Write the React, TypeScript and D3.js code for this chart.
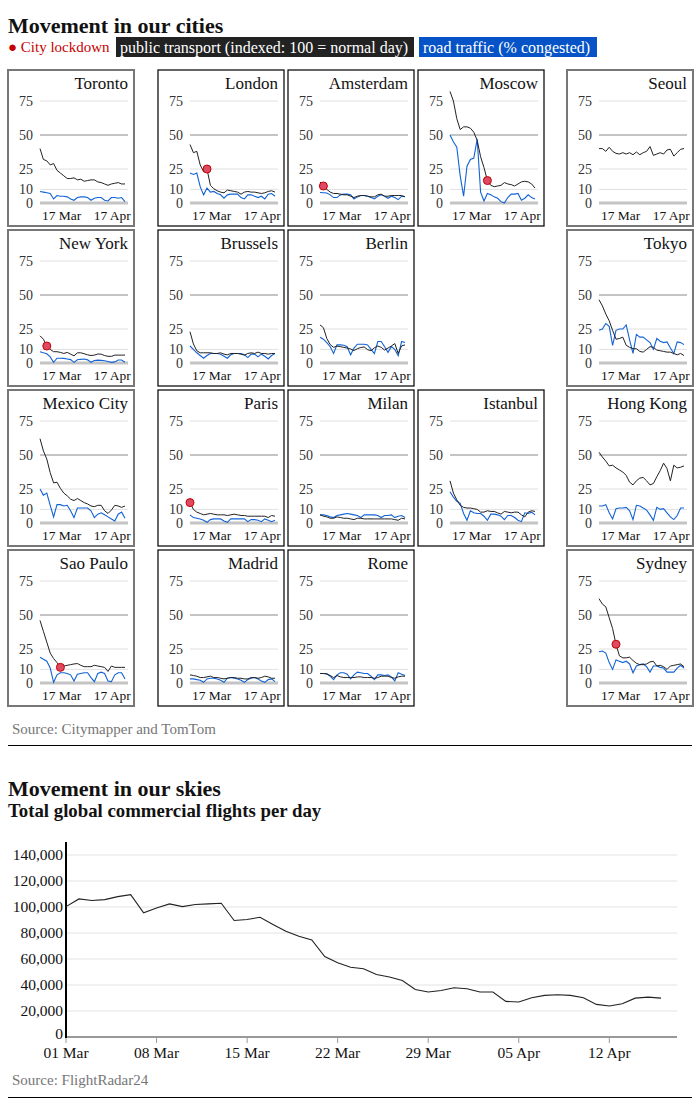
import React from "react";
import * as d3 from "d3";

const FONT = "'Liberation Serif', 'Times New Roman', serif";

// ---------- City panels data (every 2 days, 4 Mar – 23 Apr 2020) ----------
const cityStart = new Date(2020, 2, 4);
const cityDates = d3.range(26).map((i) => d3.timeDay.offset(cityStart, 2 * i));
const cityTickDates = [new Date(2020, 2, 17), new Date(2020, 3, 17)];
const cityTickLabels = ["17 Mar", "17 Apr"];
const cityYTicks = [0, 10, 25, 50, 75];

const torontoTransport = [40, 32, 31, 28, 29, 24, 22, 20, 18, 18, 18.5, 17, 17.5, 16, 16.5, 17, 17, 15.5, 15, 14, 13, 14, 14.5, 15, 14, 14];
const torontoTraffic = [8.5, 8, 7.5, 7, 3, 5.5, 5, 5, 4.5, 3, 2, 4, 4.5, 4.5, 4, 2, 3.5, 4, 4, 2, 1.5, 4, 4, 3.5, 4, 1];
const londonTransport = [43, 37, 38, 28, 23, 25, 13, 10.5, 9, 8, 7.5, 9.5, 9, 8.5, 8, 6.5, 8, 8.5, 8, 8, 7.5, 7, 7.5, 8.5, 9, 8];
const londonTraffic = [22, 21, 22, 12, 6, 11, 8, 8.5, 7, 6, 3.5, 6, 6.5, 6.5, 6.5, 4, 3, 6, 6, 5, 4, 5, 3, 6.5, 7, 5];
const amsterdamTransport = [15.5, 12.5, 10, 8, 7, 7, 6.5, 6, 6, 5, 4, 5, 5.5, 5.5, 5, 4.5, 4.5, 6, 6.5, 5, 5, 5.5, 5.5, 5.5, 5.5, 4.5];
const amsterdamTraffic = [7.7, 7.5, 7.3, 6, 4, 4, 6, 6.5, 6.5, 6, 3, 4.5, 5.5, 5.5, 5, 4, 3, 5, 6, 5, 3.5, 5, 4, 2.5, 5, 4.8];
const moscowTransport = [82, 75, 62, 54, 56, 56, 55, 52, 46, 34, 26, 16.5, 13, 12, 12.5, 13, 15, 14, 13.5, 12.5, 14, 15.5, 16, 15.5, 14, 11];
const moscowTraffic = [50, 45, 41, 20, 5, 27, 32, 33, 47, 8, 1.5, 7, 6, 4.5, 3.5, 1, 0, 4, 6.5, 6.5, 7, 2, 3.5, 6, 4, 3];
const seoulTransport = [40, 40, 38, 41, 38, 36.5, 36, 37, 36, 37, 35.5, 37.5, 35.5, 37, 38, 41.5, 35, 36, 37, 36, 39, 39.5, 34.5, 37, 39.5, 40];
const newYorkTransport = [20, 17.5, 12.5, 10, 8.3, 8.3, 7.8, 7, 7.8, 6.5, 5.3, 7.5, 7.5, 6.8, 6, 5.5, 5.8, 6.6, 6.5, 5.5, 4.9, 4.9, 5.8, 5.8, 5.8, 5.8];
const newYorkTraffic = [8.3, 7.5, 6.8, 4.5, 0.5, 3.5, 3.5, 3.4, 3, 2.5, 0.5, 2.4, 2.7, 2.9, 2.3, 0.5, 1.8, 2.1, 1.9, 1.6, 1.1, 0.5, 0.8, 2.2, 2.2, 0.5];
const brusselsTransport = [23, 14, 9, 7.5, 7.5, 7.5, 7.5, 7, 7, 7.5, 6.5, 6, 7, 7, 7, 6.5, 5.8, 7, 7.5, 7, 8, 7, 7, 6.5, 7, 7];
const brusselsTraffic = [12.5, 10, 7.5, 5.5, 3.5, 5.5, 7, 7, 7, 6.5, 5, 3.5, 6, 7, 7, 7, 6, 4, 6.5, 6.5, 4.5, 6.5, 5, 3, 5.5, 7];
const berlinTransport = [28, 26, 18, 13.5, 11.5, 12.5, 12, 11.5, 11, 10.3, 9.2, 10.5, 11.4, 11.8, 9.8, 9, 11.2, 12.5, 11.5, 9.5, 11, 12.5, 14.3, 7, 12.6, 13.3];
const berlinTraffic = [19, 17.5, 15, 12, 7, 13.3, 13.3, 13, 12, 6, 11, 13.8, 13.8, 13.8, 13.3, 10, 7, 15.8, 15.8, 12, 7.8, 12, 10, 5.3, 15.8, 15];
const tokyoTransport = [46.5, 42, 36, 31, 24, 17.5, 18, 19, 13, 11.5, 10.5, 10.5, 8.5, 8, 10, 12, 11.5, 9.5, 9, 8.5, 8, 8, 7, 6, 7, 5.5];
const tokyoTraffic = [24, 25, 29, 27, 13, 24, 25, 25, 28, 17, 7, 21, 19, 19, 17, 15, 10, 18, 16, 15, 15.5, 11, 7, 15.5, 15, 13.5];
const mexicoTransport = [62, 53, 47, 37, 29.5, 30, 25.5, 22, 20, 17.5, 16.5, 18, 16.5, 15, 14, 12.5, 12, 13, 13, 9, 7, 9.5, 13, 12.5, 11.5, 12.5];
const mexicoTraffic = [25, 20.5, 22, 13, 4.5, 13.5, 13.5, 12.5, 13, 9, 4, 11, 11, 11, 11, 9, 4, 6.5, 7.5, 6, 4.5, 3, 1.5, 6.5, 8, 3.5];
const parisTransport = [15, 10, 8, 7, 6, 6.5, 7, 6.5, 6, 6, 6, 5.5, 6, 6.5, 6, 5.5, 5.5, 5, 5, 5, 5, 5, 5, 4, 5.5, 5];
const parisTraffic = [6, 4, 3.5, 3, 2, 0.5, 2.5, 3, 3, 3, 1.5, 0.5, 3, 3, 3, 3, 3, 1, 2.5, 2.5, 2, 1, 3, 2, 1, 2];
const milanTransport = [6, 5, 4.5, 3.5, 3.5, 4.5, 4, 3.5, 3.5, 3, 2.5, 3.5, 3.5, 3, 3, 3, 3, 3, 3, 3, 3, 3, 2.5, 2, 3.5, 3];
const milanTraffic = [6, 6, 5.5, 4.5, 4, 5.5, 6, 6.5, 7, 6.5, 6, 5.5, 4, 6, 6, 6, 6, 5.5, 4, 5.5, 5.5, 6, 4, 5, 5.5, 4];
const istanbulTransport = [31, 22, 17, 13, 11.5, 11, 11, 10.5, 10, 8, 8, 9, 8.5, 8.5, 7.5, 6.5, 8.5, 8, 7.5, 8, 8, 6, 4.5, 8, 9, 8.5];
const istanbulTraffic = [23, 19, 16, 14.5, 7, 2, 9, 7.5, 7, 7, 5, 2, 6.5, 6.5, 6, 5, 2.5, 5.5, 5.5, 4, 2, 1, 7.5, 7, 8, 6];
const hongKongTransport = [52, 48.5, 45.5, 42, 42.5, 40.5, 39, 37.5, 35, 30, 28, 31, 33, 33.5, 31, 28, 29, 34, 38.5, 44, 40, 31, 42.5, 40.5, 41, 42];
const hongKongTraffic = [12.5, 12.5, 13.5, 7.5, 3, 10.5, 11, 11, 11.5, 9, 2.5, 13, 12.5, 11, 9.5, 6, 2, 11.5, 10, 10.5, 7.5, 4.5, 2.5, 5.5, 11, 11];
const saoPauloTransport = [46, 38, 30, 22, 18, 15, 11.5, 12.5, 13, 13.5, 14, 14.3, 13, 12, 12, 12, 13, 12.5, 12, 11.5, 8.5, 12.5, 11.5, 11.5, 11.5, 11.5];
const saoPauloTraffic = [19, 17.5, 16, 11, 0.5, 6, 7.5, 7.5, 7, 6, 1.5, 6.5, 7, 7.5, 7.5, 4, 1, 7, 8, 7, 1.5, 1, 6, 7.5, 7.5, 3];
const madridTransport = [6, 5.5, 5, 4, 4, 4.5, 5, 4, 4, 3.5, 3, 3.5, 4, 4, 3.5, 3.5, 3, 3, 4, 4, 3.5, 4, 5, 4.5, 3.5, 3.5];
const madridTraffic = [3, 3, 2.5, 2, 0.5, 3, 3.5, 3.5, 3, 2, 0.5, 3.5, 4, 3.5, 3, 2, 0.5, 2.5, 3.5, 4, 3, 1.5, 0.5, 2.5, 3, 1];
const romeTransport = [7, 7, 6.5, 5.5, 4, 5.5, 4.5, 4, 4, 4, 4, 4.5, 4.5, 4, 4, 4, 3.5, 4, 5, 5, 5, 4, 3.5, 4.5, 5, 5];
const romeTraffic = [7, 7, 7, 5, 2.5, 6, 7.5, 7.5, 6.5, 3, 6, 8, 7.5, 7, 7, 5, 2.5, 6, 6, 5.5, 6, 4.5, 1.5, 7.5, 6.5, 5.5];
const sydneyTransport = [62, 58, 56, 48, 40, 28.5, 20, 18.5, 18.5, 19, 16.5, 14.5, 13.5, 13.5, 14, 15.5, 16, 12.5, 13, 12, 10, 12.5, 13, 13.5, 14, 12];
const sydneyTraffic = [23, 23.5, 22, 15, 10, 17, 16, 15, 16, 14, 7.5, 12.5, 13.5, 14, 12, 8, 12.5, 12.5, 11.5, 11, 8, 8, 8, 11, 13, 11];

const cityNames = ["Toronto", "London", "Amsterdam", "Moscow", "Seoul", "New York", "Brussels", "Berlin", "Tokyo", "Mexico City", "Paris", "Milan", "Istanbul", "Hong Kong", "Sao Paulo", "Madrid", "Rome", "Sydney"];
const transportSeries = [torontoTransport, londonTransport, amsterdamTransport, moscowTransport, seoulTransport, newYorkTransport, brusselsTransport, berlinTransport, tokyoTransport, mexicoTransport, parisTransport, milanTransport, istanbulTransport, hongKongTransport, saoPauloTransport, madridTransport, romeTransport, sydneyTransport];
const trafficSeries = [torontoTraffic, londonTraffic, amsterdamTraffic, moscowTraffic, null, newYorkTraffic, brusselsTraffic, berlinTraffic, tokyoTraffic, mexicoTraffic, parisTraffic, milanTraffic, istanbulTraffic, hongKongTraffic, saoPauloTraffic, madridTraffic, romeTraffic, sydneyTraffic];
// index into cityDates of the lockdown marker (-1 = none)
const lockdownIndex = [-1, 5, 1, 11, -1, 2, -1, -1, -1, -1, 0, -1, -1, -1, 6, -1, -1, 5];
const europeanCity = [false, true, true, true, false, false, true, true, false, false, true, true, true, false, false, true, true, false];

// grid layout (column, row) of each panel
const panelCol = [0, 1, 2, 3, 4, 0, 1, 2, 4, 0, 1, 2, 3, 4, 0, 1, 2, 4];
const panelRow = [0, 0, 0, 0, 0, 1, 1, 1, 1, 2, 2, 2, 2, 2, 3, 3, 3, 3];

// ---------- Flights data (1 Mar – 16 Apr 2020, daily) ----------
const flightStart = new Date(2020, 2, 1);
const flights = [100300, 106200, 105000, 105700, 108000, 109500, 95500, 99300, 102400, 100300, 101900, 102400, 102900, 89600, 90400, 92100, 86500, 81400, 77500, 74700, 61900, 57100, 53700, 52500, 48100, 46100, 43500, 36600, 34600, 35800, 37900, 37100, 34600, 34600, 27400, 26900, 30200, 32000, 32500, 32000, 30200, 25100, 23800, 25600, 29900, 30700, 29900];
const flightDates = flights.map((_, i) => d3.timeDay.offset(flightStart, i));
const flightYTicks = [0, 20000, 40000, 60000, 80000, 100000, 120000, 140000];
const flightXTicks = [new Date(2020, 2, 1), new Date(2020, 2, 8), new Date(2020, 2, 15), new Date(2020, 2, 22), new Date(2020, 2, 29), new Date(2020, 3, 5), new Date(2020, 3, 12)];

const BLACK_LINE = "#222";
const BLUE_LINE = "#1263d6";
const RED = "#c70000";

function Panel({ idx }: { idx: number }) {
  const colX = [8, 158, 288, 418, 567];
  const rowY = [70, 230, 390, 550];
  const x0 = colX[panelCol[idx]];
  const y0 = rowY[panelRow[idx]];
  const W = 126;
  const H = 156;
  const x = d3.scaleTime().domain([cityDates[0], cityDates[cityDates.length - 1]]).range([x0 + 32, x0 + 117]);
  const y = d3.scaleLinear().domain([0, 75]).range([y0 + 133, y0 + 31]);
  const line = d3.line<number>().x((_, i) => x(cityDates[i])).y((v) => y(v));
  const t = transportSeries[idx];
  const r = trafficSeries[idx];
  const li = lockdownIndex[idx];
  const eu = europeanCity[idx];
  return (
    <g>
      <rect x={x0} y={y0} width={W} height={H} fill="#fff" stroke={eu ? "#111" : "#777"} strokeWidth={eu ? 1.3 : 2} />
      <text x={x0 + 120} y={y0 + 19} textAnchor="end" fontSize={17} fill="#121212">{cityNames[idx]}</text>
      {cityYTicks.map((v) => (
        <g key={v}>
          <line x1={x0 + 32} x2={x0 + 120} y1={y(v)} y2={y(v)}
            stroke={v === 0 ? "#c4c4c4" : v === 50 ? "#8a8a8a" : "#e0e0e0"} strokeWidth={v === 0 ? 3 : 1} />
          <text x={x0 + 25} y={y(v)} dy="0.35em" textAnchor="end" fontSize={14} fill="#333">{v}</text>
        </g>
      ))}
      {cityTickDates.map((d, i) => (
        <text key={i} x={x(d)} dx={i === 1 ? -2.5 : -0.5} y={y0 + 150} textAnchor="middle" fontSize={13.5} fill="#121212">{cityTickLabels[i]}</text>
      ))}
      {r && <path d={line(r) || ""} fill="none" stroke={BLUE_LINE} strokeWidth={1.1} />}
      <path d={line(t) || ""} fill="none" stroke={BLACK_LINE} strokeWidth={1} />
      {li >= 0 && (
        <circle cx={x(cityDates[li])} cy={y(t[li])} r={4} fill="#dc4a64" stroke={RED} strokeWidth={1} />
      )}
    </g>
  );
}

function Flights() {
  const x = d3.scaleTime().domain([flightStart, new Date(2020, 3, 17)]).range([66, 674]);
  const y = d3.scaleLinear().domain([0, 148000]).range([1037, 844.6]);
  const line = d3.line<number>().x((_, i) => x(flightDates[i])).y((v) => y(v));
  const fmt = d3.format(",");
  const dfmt = d3.timeFormat("%d %b");
  return (
    <g>
      {flightYTicks.filter((v) => v > 0).map((v) => (
        <line key={v} x1={66} x2={677} y1={y(v)} y2={y(v)} stroke="#e2e2e2" strokeWidth={1} />
      ))}
      {flightYTicks.map((v) => (
        <text key={v} x={63} y={v === 0 ? y(v) - 3 : y(v)} dy="0.35em" textAnchor="end" fontSize={15.5} fill="#121212">{fmt(v)}</text>
      ))}
      <line x1={66} x2={677} y1={1037} y2={1037} stroke="#999" strokeWidth={2} />
      {flightXTicks.map((d, i) => (
        <g key={i}>
          <line x1={x(d)} x2={x(d)} y1={1037} y2={1043} stroke="#999" strokeWidth={1} />
          <text x={x(d)} y={1058} textAnchor="middle" fontSize={15.5} fill="#121212">{dfmt(d)}</text>
        </g>
      ))}
      <line x1={66} x2={66} y1={842} y2={1038} stroke="#000" strokeWidth={2} />
      <path d={line(flights) || ""} fill="none" stroke={BLACK_LINE} strokeWidth={1.1} />
    </g>
  );
}

export default function App() {
  return (
    <svg width={700} height={1113} style={{ position: "absolute", left: 0, top: 0, background: "#fff" }} fontFamily={FONT}>
      <text x={8} y={33} fontSize={22} fontWeight="bold" fill="#121212">Movement in our cities</text>
      <text x={8} y={52} fontSize={15} fill={RED}>● City lockdown</text>
      <rect x={116} y={37} width={298} height={20} fill="#222" />
      <text x={120} y={52.5} fontSize={16} fill="#fff">public transport (indexed: 100 = normal day)</text>
      <rect x={419} y={37} width={178} height={20} fill="#0553c6" />
      <text x={423} y={52.5} fontSize={16} fill="#fff">road traffic (% congested)</text>

      {cityNames.map((_, i) => <Panel key={i} idx={i} />)}

      <text x={12} y={734} fontSize={15} fill="#767676">Source: Citymapper and TomTom</text>
      <line x1={8} x2={692} y1={745.5} y2={745.5} stroke="#000" strokeWidth={1} />

      <text x={8} y={796} fontSize={22} fontWeight="bold" fill="#121212">Movement in our skies</text>
      <text x={8} y={817} fontSize={18.8} fontWeight="bold" fill="#121212">Total global commercial flights per day</text>
      <Flights />
      <text x={12} y={1085} fontSize={15} fill="#767676">Source: FlightRadar24</text>
      <line x1={8} x2={692} y1={1097.5} y2={1097.5} stroke="#000" strokeWidth={1} />
    </svg>
  );
}
